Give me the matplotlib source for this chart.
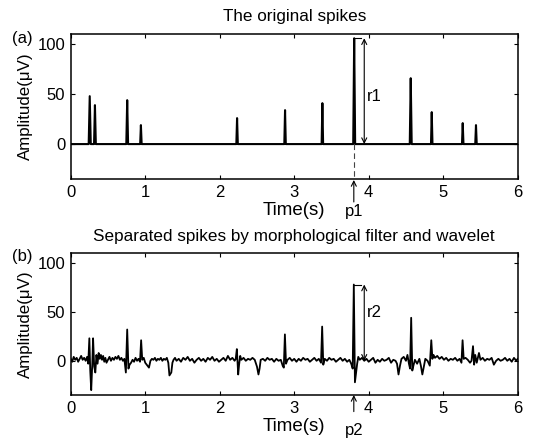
import matplotlib
matplotlib.use('Agg')
import matplotlib.pyplot as plt
import numpy as np

plt.rcParams['font.family'] = ['Liberation Sans', 'DejaVu Sans']

# ---- data: original spikes (time in s, amplitude in uV) ----
spike_times = [0.255, 0.325, 0.758, 0.942, 2.233, 2.877, 3.378, 3.805, 4.564, 4.846, 5.262, 5.440]
spike_amps = [48, 39, 44, 19, 26, 34, 41, 106, 66, 32, 21, 19]
spike_halfwidth = [0.014, 0.012, 0.012, 0.01, 0.01, 0.01, 0.01, 0.013, 0.013, 0.01, 0.01, 0.01]

# ---- data: separated spikes trace ----
sep_t = [0.00, 0.02, 0.04, 0.06, 0.08, 0.10, 0.12, 0.14, 0.16, 0.18, 0.20, 0.22, 0.235,
         0.25, 0.262, 0.275, 0.29, 0.30, 0.315, 0.33, 0.345, 0.36, 0.375, 0.39, 0.405,
         0.42, 0.435, 0.45, 0.465, 0.48, 0.50, 0.52, 0.54, 0.56, 0.58, 0.60, 0.62, 0.64,
         0.66, 0.68, 0.70, 0.72, 0.74, 0.758, 0.775, 0.79, 0.81, 0.83, 0.85, 0.87, 0.89,
         0.91, 0.93, 0.945, 0.96, 0.98, 1.00, 1.03, 1.05, 1.07, 1.09, 1.11, 1.13, 1.15,
         1.17, 1.19, 1.21, 1.23, 1.25, 1.27, 1.29, 1.31, 1.325, 1.35, 1.365, 1.38, 1.40,
         1.42, 1.45, 1.48, 1.51, 1.54, 1.57, 1.60, 1.63, 1.66, 1.69, 1.72, 1.75, 1.78,
         1.81, 1.84, 1.87, 1.90, 1.93, 1.96, 1.99, 2.02, 2.05, 2.08, 2.11, 2.14, 2.17,
         2.20, 2.215, 2.23, 2.248, 2.26, 2.275, 2.29, 2.32, 2.35, 2.38, 2.41, 2.44, 2.47,
         2.50, 2.52, 2.535, 2.55, 2.58, 2.61, 2.64, 2.67, 2.70, 2.73, 2.76, 2.79, 2.82,
         2.845, 2.86, 2.875, 2.89, 2.91, 2.94, 2.97, 3.00, 3.03, 3.06, 3.09, 3.12, 3.15,
         3.18, 3.21, 3.24, 3.27, 3.30, 3.33, 3.36, 3.375, 3.39, 3.41, 3.44, 3.47, 3.50,
         3.53, 3.56, 3.59, 3.62, 3.65, 3.68, 3.71, 3.74, 3.765, 3.785, 3.80, 3.815, 3.83,
         3.845, 3.86, 3.88, 3.91, 3.94, 3.97, 4.00, 4.03, 4.06, 4.09, 4.12, 4.15, 4.18,
         4.21, 4.24, 4.27, 4.30, 4.33, 4.36, 4.38, 4.40, 4.42, 4.44, 4.47, 4.50, 4.52,
         4.54, 4.555, 4.57, 4.585, 4.60, 4.62, 4.65, 4.68, 4.70, 4.72, 4.74, 4.76, 4.79,
         4.82, 4.84, 4.855, 4.87, 4.89, 4.92, 4.95, 4.98, 5.01, 5.04, 5.07, 5.10, 5.13,
         5.16, 5.19, 5.22, 5.245, 5.26, 5.275, 5.30, 5.33, 5.36, 5.38, 5.40, 5.415,
         5.43, 5.45, 5.48, 5.50, 5.53, 5.56, 5.59, 5.62, 5.65, 5.68, 5.71, 5.74, 5.77,
         5.80, 5.83, 5.86, 5.89, 5.92, 5.95, 5.98, 6.00]
sep_v = [2, -1, 4, 1, 3, -1, 2, 5, 1, 3, 0, 4, -3,
         23, -10, -30, -2, 23, -6, -12, 6, -3, 8, 2, 6,
         1, 5, -1, 3, -2, 1, 4, 0, 3, 1, 4, 2, 5,
         1, 3, 0, 2, -12, 32, -8, -4, -2, 1, -1, 3, 0,
         2, -1, 21, 1, 3, -2, -5, -7, 0, 2, 1, 3, 0,
         2, 1, 3, 0, 2, 1, 3, -2, -15, -12, -2, 1, 3,
         0, 2, -1, 3, 1, 4, 0, 2, -2, 1, 3, 0, 2,
         -1, 3, 1, 4, 0, 2, -1, 1, 3, 0, 5, 1, 3,
         0, 2, 12, -14, -4, 5, 1, 3, 0, 2, 1, 3, 1,
         -6, -14, -8, 1, 2, 0, 3, 1, 2, -1, 2, 0, 1,
         -5, -7, 27, -3, 1, 3, 0, 2, -1, 2, 0, 3, 1,
         2, -1, 1, 3, 0, 2, -2, 35, -4, 2, 0, 3, 1,
         2, -1, 1, 3, 0, 2, -1, 1, -3, -8, 78, -22, -12,
         -3, 4, 1, 3, 0, 2, -1, 1, 3, -2, 1, -1, 2,
         0, 1, 3, -2, 1, 0, -3, -14, -5, 2, 4, 0, 6,
         -3, -8, 44, -10, -5, 1, -3, 2, -5, -14, -6, 2, 0,
         -5, 21, 2, 6, 3, 5, 2, 4, 1, 3, 0, 2, 1,
         3, 0, 2, -2, 21, 2, 3, 1, -2, 0, 15, -4,
         6, -2, 8, 1, 3, 0, 2, 1, 3, -4, 0, 2, 0,
         1, 3, 0, 2, -1, 3, 0, 2]

peak_time = 3.80
r1_top = 106
r2_top = 78
arrow_x = 3.94

x_ticks = [0, 1, 2, 3, 4, 5, 6]
y_ticks = [0, 50, 100]

# ---- build the original spike trace ----
ox = [0.0]
oy = [0.0]
for t, a, w in zip(spike_times, spike_amps, spike_halfwidth):
    ox += [t - w, t, t + w]
    oy += [0, a, 0]
ox.append(6.0)
oy.append(0.0)

fig = plt.figure(figsize=(5.33, 4.38), dpi=100)
ax1 = fig.add_axes([0.1327, 0.5913, 0.8386, 0.3304])
ax2 = fig.add_axes([0.1327, 0.0982, 0.8386, 0.3235])

FS = 12

for ax in (ax1, ax2):
    ax.set_xlim(0, 6)
    ax.set_ylim(-35, 110)
    ax.set_xticks(x_ticks)
    ax.set_yticks(y_ticks)
    ax.tick_params(direction='in', top=True, right=True, length=3.2, width=0.8,
                   labelsize=FS, pad=4)
    for s in ax.spines.values():
        s.set_linewidth(1.1)
    ax.set_xlabel('Time(s)', fontsize=13.5, labelpad=1.5)
    ax.set_ylabel('Amplitude(\u03bcV)', fontsize=12.2)
    ax.yaxis.set_label_coords(-0.084, 0.5)

ax1.plot(ox, oy, color='black', lw=1.5)
ax2.plot(sep_t, sep_v, color='black', lw=1.3)

ax1.text(0.5, 1.126, 'The original spikes', transform=ax1.transAxes,
         ha='center', va='center', fontsize=12.3)
ax2.text(0.5, 1.117, 'Separated spikes by morphological filter and wavelet',
         transform=ax2.transAxes, ha='center', va='center', fontsize=12.3)

fig.text(22 / 533, 1 - 38 / 438, '(a)', ha='center', va='center', fontsize=FS)
fig.text(22 / 533, 1 - 256.5 / 438, '(b)', ha='center', va='center', fontsize=FS)

# annotations on the top panel
ax1.plot([peak_time, peak_time + 0.09], [r1_top, r1_top], color='black', lw=0.8)
ax1.annotate('', xy=(arrow_x, 0), xytext=(arrow_x, r1_top),
             arrowprops=dict(arrowstyle='<->', color='black', lw=0.8,
                             shrinkA=0, shrinkB=0, mutation_scale=9))
ax1.text(arrow_x + 0.03, 48, 'r1', ha='left', va='center', fontsize=FS)
ax1.plot([peak_time, peak_time], [0, -35], color='#444444', lw=0.8,
         ls=(0, (5, 3)))
ax1.annotate('', xy=(peak_time, -36), xytext=(peak_time, -58),
             arrowprops=dict(arrowstyle='->', color='black', lw=0.8,
                             shrinkA=0, shrinkB=0, mutation_scale=9),
             annotation_clip=False)
ax1.text(peak_time, -68, 'p1', ha='center', va='center', fontsize=FS,
         clip_on=False)

# annotations on the bottom panel
ax2.plot([peak_time, peak_time + 0.09], [r2_top, r2_top], color='black', lw=0.8)
ax2.annotate('', xy=(arrow_x, 0), xytext=(arrow_x, r2_top),
             arrowprops=dict(arrowstyle='<->', color='black', lw=0.8,
                             shrinkA=0, shrinkB=0, mutation_scale=9))
ax2.text(arrow_x + 0.03, 49, 'r2', ha='left', va='center', fontsize=FS)
ax2.annotate('', xy=(peak_time, -35), xytext=(peak_time, -52),
             arrowprops=dict(arrowstyle='->', color='black', lw=0.8,
                             shrinkA=0, shrinkB=0, mutation_scale=9),
             annotation_clip=False)
ax2.text(peak_time, -71, 'p2', ha='center', va='center', fontsize=FS,
         clip_on=False)

fig.savefig('out.png', dpi=100)
